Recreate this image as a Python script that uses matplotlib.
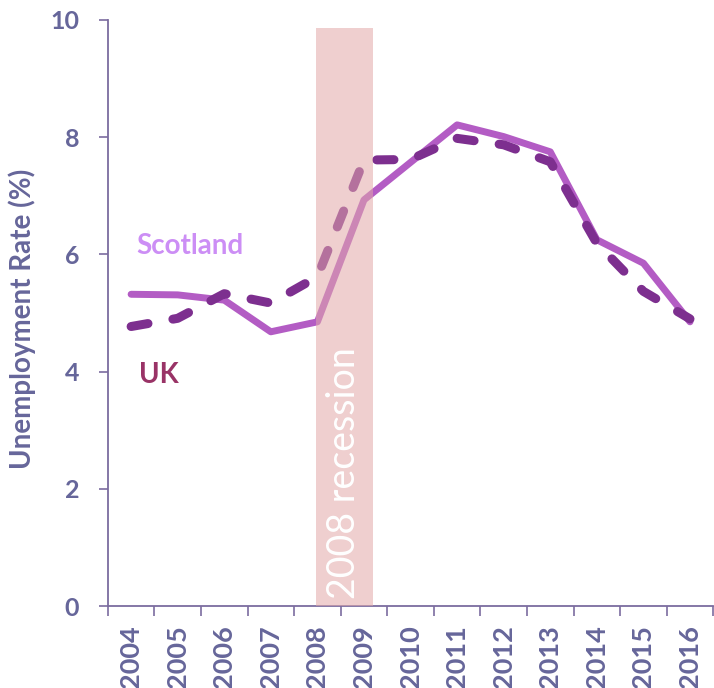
import numpy as np
import matplotlib
matplotlib.use('Agg')
import matplotlib.pyplot as plt

years = ['2004', '2005', '2006', '2007', '2008', '2009', '2010',
         '2011', '2012', '2013', '2014', '2015', '2016']
scotland = [5.32, 5.31, 5.22, 4.68, 4.85, 6.93, 7.57, 8.21, 8.01, 7.75, 6.25, 5.85, 4.85]
uk = [4.77, 4.91, 5.33, 5.17, 5.62, 7.61, 7.62, 7.98, 7.87, 7.58, 6.19, 5.37, 4.90]

recession_start = 3.97   # category position
recession_end = 5.19
recession_top = 9.86

axis_col = '#7b6c9f'
text_col = '#66669a'

plt.rcParams['font.family'] = ['Lato', 'DejaVu Sans']

fig = plt.figure(figsize=(7.14, 6.88), dpi=100)
ax = fig.add_axes([0.151, 0.119, 0.848, 0.852])

x = np.arange(len(years))
ax.plot(x, scotland, color='#b35cc4', lw=5, solid_joinstyle='round',
        solid_capstyle='round', zorder=3)
ax.plot(x, uk, color='#7d2f8f', lw=6.5, dashes=(1.9, 2.8),
        dash_capstyle='round', zorder=4)

# recession band sits on top of the lines
ax.fill_between([recession_start, recession_end], 0, recession_top,
                color='#e2a9a9', alpha=0.55, lw=0, zorder=5)
ax.text((recession_start + recession_end) / 2, 0.13, '2008 recession',
        rotation=90, ha='center', va='bottom', color='white',
        fontsize=27, zorder=6)

ax.text(0.12, 6.14, 'Scotland', color='#cc8ef5', fontsize=20,
        fontweight='bold', va='center', ha='left')
ax.text(0.18, 3.94, 'UK', color='#993366', fontsize=20,
        fontweight='bold', va='center', ha='left')

ax.set_xlim(-0.5, len(years) - 0.5)
ax.set_ylim(0, 10)
ax.set_yticks(range(0, 11, 2))
ax.set_xticks(x)
ax.set_xticklabels(years, rotation=90, fontsize=19.5, fontweight='bold', color=text_col)
ax.set_xticks(np.arange(-0.5, len(years)), minor=True)
ax.tick_params(axis='x', which='major', length=0, pad=14)
ax.tick_params(axis='x', which='minor', length=7, width=1.2, color=axis_col, direction='out')
ax.tick_params(axis='y', length=6.5, width=1.2, color=axis_col, labelsize=18,
               labelcolor=text_col, pad=14)
for lab in ax.get_yticklabels():
    lab.set_fontweight('bold')

ax.set_ylabel('Unemployment Rate (%)', fontsize=20, fontweight='bold',
              color=text_col, va='center')
ax.yaxis.set_label_coords(-0.142, 0.49)

for side in ['top', 'right']:
    ax.spines[side].set_visible(False)
for side in ['left', 'bottom']:
    ax.spines[side].set_color(axis_col)
    ax.spines[side].set_linewidth(1.3)

fig.savefig('out.png', dpi=100)
